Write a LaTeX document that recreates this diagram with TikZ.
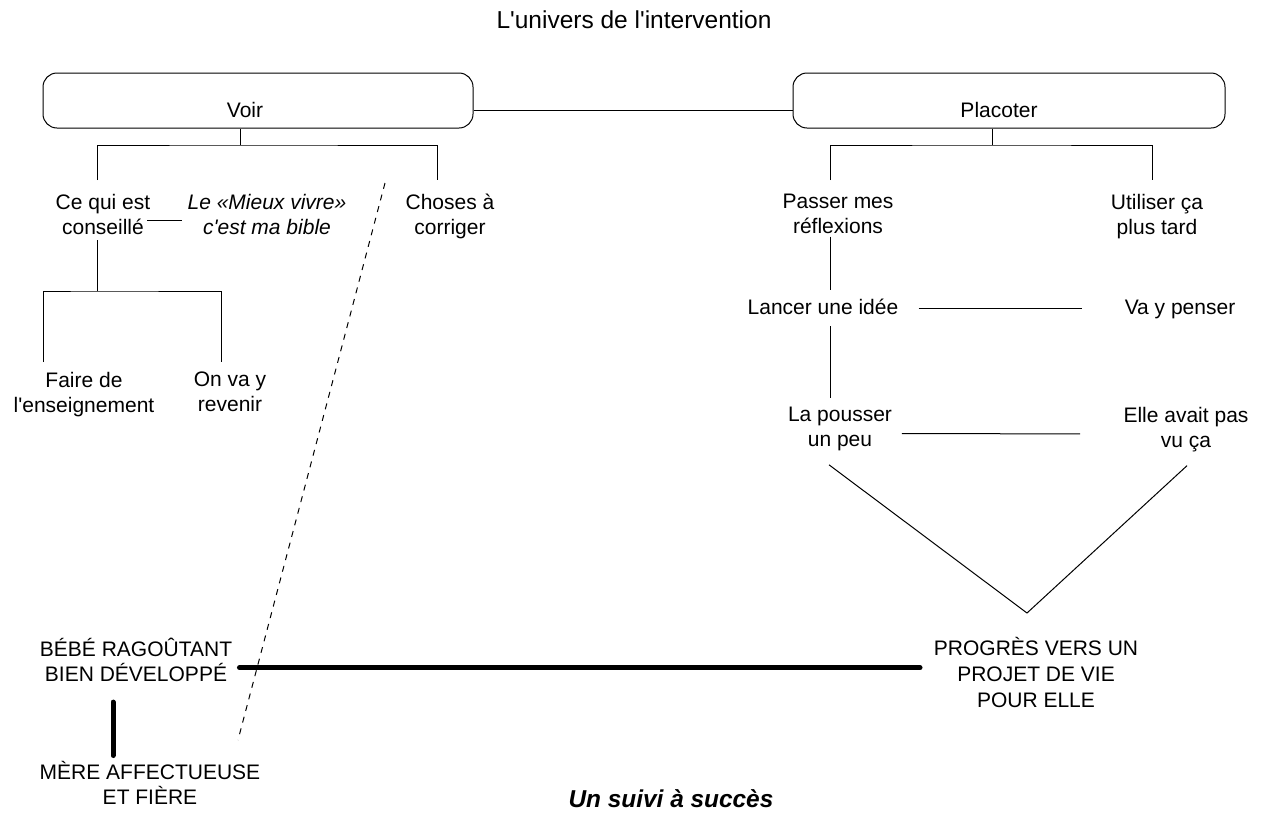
\documentclass[tikz,border=0pt]{standalone}
\usepackage{fontspec}
\setmainfont{Liberation Sans}
\usepackage{tikz}
\usetikzlibrary{positioning}

\tikzset{
	cadre/.style={draw, line width=0.5pt, rounded corners=7pt, minimum width=215pt, minimum height=27.5pt, inner sep=0pt},
	texte/.style={align=center, inner sep=0pt, font=\fontsize{10.5}{12.5}\selectfont},
	feuille/.style={texte, outer ysep=4.5pt, anchor=north, execute at begin node={\vphantom{\'E}}},
	lien/.style={line width=0.5pt},
	epais/.style={line width=2.5pt, line cap=round}
}

\begin{document}
\begin{tikzpicture}[x=0.5pt, y=-0.5pt]
		\useasboundingbox (0,0) rectangle (1267,825);
		
		\node[texte, font=\fontsize{12.25}{14}\selectfont] (titre) at (634,20) {L\textquotesingle univers de l\textquotesingle intervention};
		
		% les deux cadres
		\node[cadre] (voir) at (258,100.5) {};
		\node[texte] (voirtxt) at (245,110) {Voir};
		\node[cadre, minimum width=216pt] (placoter) at (1009,100.5) {};
		\node[texte] (placotertxt) at (999,110) {Placoter};
		\draw[lien] (voir.east |- voirtxt) -- (placoter.west |- voirtxt);
		
		% cote Voir
		\node[feuille] (ce) at (103,185) {Ce qui est\\conseill\'e};
		\node[feuille, font=\fontsize{10.5}{12.5}\selectfont\itshape] (bible) at (267,185) {Le «Mieux vivre»\\c\textquotesingle est ma bible};
		\node[feuille] (ch) at (450,185) {Choses \`a\\corriger};
		\node[feuille] (faire) at (84,363) {Faire de\\l\textquotesingle enseignement};
		\node[feuille] (onva) at (230,363) {On va y\\revenir};
		
		\coordinate (vj) at (240,145);
		\draw[lien] (voir.south -| vj) -- (vj);
		\draw[lien] ([xshift=-3pt,yshift=2.5pt]ce.north) |- (vj) -| ([xshift=-6.5pt,yshift=2.5pt]ch.north);
		\coordinate (cebis) at ([xshift=-1.75pt,yshift=-3.15pt]ce.east);
		\draw[lien] (cebis) -- ([xshift=-2.5pt]bible.west |- cebis);
		
		\coordinate (cj) at (97,291);
		\draw[lien] ([xshift=-3pt,yshift=1.5pt]ce.south) -- (cj);
		\draw[lien] ([xshift=-20.5pt,yshift=0.5pt]faire.north) |- (cj) -| ([xshift=-4.5pt,yshift=0.5pt]onva.north);
		
		% la coupure
		\coordinate (coupehaut) at (385,183);
		\coordinate (coupebas) at (238,740);
		\draw[lien, dashed] (coupehaut) -- (coupebas);
		
		% cote Placoter
		\node[feuille] (passer) at (838,185) {Passer mes\\r\'eflexions};
		\node[feuille] (utiliser) at (1157,185) {Utiliser \c{c}a\\plus tard};
		\node[feuille] (lancer) at (823,287) {Lancer une id\'ee};
		\node[feuille] (vapenser) at (1180,287) {Va y penser};
		\node[feuille] (pousser) at (840,398) {La pousser\\un peu};
		\node[feuille] (elle) at (1186,398) {Elle avait pas\\vu \c{c}a};
		\node[feuille, font=\fontsize{10.5}{13}\selectfont] (progres) at (1036,628) {PROGR\`ES VERS UN\\PROJET DE VIE\\POUR ELLE};
		
		\coordinate (pj) at (992,145);
		\draw[lien] (placoter.south -| pj) -- (pj);
		\draw[lien] ([xshift=-4pt,yshift=2.5pt]passer.north) |- (pj) -| ([xshift=-2.5pt,yshift=2.5pt]utiliser.north);
		\draw[lien] ([xshift=-4pt,yshift=3pt]passer.south) -- ([xshift=3.5pt,yshift=-1.5pt]lancer.north);
		\draw[lien] ([xshift=3.5pt,yshift=-1.5pt]lancer.south) -- ([xshift=-5pt]pousser.north);
		\coordinate (lancerbis) at ([xshift=10pt,yshift=-1.65pt]lancer.east);
		\draw[lien] (lancerbis) -- ([xshift=-21pt]vapenser.west |- lancerbis);
		\draw[lien] ([xshift=4.75pt,yshift=-2.3pt]pousser.east) -- ([xshift=-21.5pt,yshift=-2.3pt]elle.west);
		\draw[lien] ([xshift=-5.5pt,yshift=-2.5pt]pousser.south) -- ([xshift=-4.5pt,yshift=7.5pt]progres.north) -- ([xshift=0.5pt,yshift=-2.5pt]elle.south);
		
		% en bas
		\node[feuille] (bebe) at (136,629) {B\'EB\'E RAGO\^UTANT\\BIEN D\'EVELOPP\'E};
		\node[feuille] (mere) at (150,752) {M\`ERE AFFECTUEUSE\\ET FI\`ERE};
		\coordinate (bebebis) at ([xshift=3.5pt,yshift=-4pt]bebe.east);
		\draw[epais] (bebebis) -- ([xshift=-6.75pt]progres.west |- bebebis);
		\draw[epais] ([xshift=-11.5pt,yshift=-5.75pt]bebe.south) -- ([xshift=-11.5pt,yshift=-1.75pt]bebe.south |- mere.north);
		
		\node[texte, font=\fontsize{12.2}{14}\selectfont\bfseries\itshape] (suivi) at (671,799) {Un suivi \`a succ\`es};
	\end{tikzpicture}
\end{document}
